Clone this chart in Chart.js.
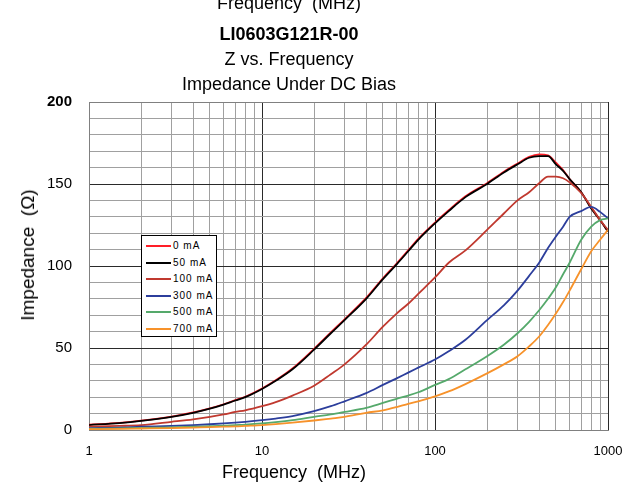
<!DOCTYPE html>
<html>
<head>
<meta charset="utf-8">
<script src="https://cdn.jsdelivr.net/npm/chart.js@4.4.1/dist/chart.umd.min.js"></script>
<style>
  body { margin: 0; background: #fff; }
  #wrap { position: relative; width: 629px; height: 487px; overflow: hidden; font-family: 'Liberation Sans', Arial, sans-serif; color: #000; }
  #chart { position: absolute; left: 0; top: 0; }
  .t { position: absolute; left: 0; width: 578px; text-align: center; font-size: 18px; line-height: 20px; white-space: pre; }
  #xTitle { position: absolute; left: 0; width: 588px; top: 462px; text-align: center; font-size: 18px; line-height: 20px; white-space: pre; }
  #yTitle { position: absolute; left: 28px; top: 255px; font-size: 19px; line-height: 20px; white-space: pre; transform: translate(-50%, -50%) rotate(-90deg); }
  #legend { position: absolute; left: 141px; top: 235px; width: 74px; height: 100px; border: 1px solid #000; background: #fff; }
  .row { position: absolute; left: 0; width: 74px; height: 14px; font-size: 10px; letter-spacing: 1px; line-height: 14px; white-space: nowrap; }
  .row span.ln { position: absolute; left: 4px; top: 6px; width: 25px; height: 2px; }
  .row span.tx { position: absolute; left: 31px; top: 0; }
</style>
</head>
<body>
<div id="wrap">
  <canvas id="chart" width="629" height="487"></canvas>
  <div class="t" style="top:-7px">Frequency  (MHz)</div>
  <div class="t" style="top:24px;font-weight:bold">LI0603G121R-00</div>
  <div class="t" style="top:49px">Z vs. Frequency</div>
  <div class="t" style="top:74px">Impedance Under DC Bias</div>
  <div id="xTitle">Frequency  (MHz)</div>
  <div id="yTitle">Impedance  (Ω)</div>
  <div id="legend"></div>
</div>
<script>
// frequency points (MHz)
const freqMHz = [1, 1.5, 2, 3, 4, 5, 6, 7, 8, 10, 12, 15, 20, 25, 30, 40, 50, 60, 70, 80,
  100, 120, 150, 200, 250, 300, 350, 400, 450, 500, 550, 600, 700, 800, 900, 1000];

// impedance (ohm) per DC bias
const z0mA = [3.2, 4.4, 5.7, 8.2, 10.7, 13.2, 15.7, 18.2, 20.3, 25.3, 30.3, 37.5, 49.5, 59.5, 67.5, 80.5, 92.5, 101.5, 109.5, 116.5,
  126.5, 134, 142.5, 150.5, 157.5, 162.5, 166.5, 168, 167.5, 163, 158.5, 153, 145, 135.5, 128, 121];
const z50mA = [3, 4.2, 5.5, 8, 10.5, 13, 15.5, 18, 20, 25, 30, 37, 49, 59, 67, 80, 92, 101, 109, 116,
  126, 133.5, 142, 150, 157, 162, 166, 167, 167, 162, 158, 153, 145, 135, 128, 121];
const z100mA = [2, 2.5, 3, 5, 6.5, 8, 9.5, 11, 12, 14.5, 17, 21, 27, 34, 40, 52, 63, 71, 77, 83,
  93, 102, 109.5, 122, 132, 140, 145, 150.5, 154.5, 154.5, 153.5, 151, 144.5, 136, 128, 122];
const z300mA = [1.2, 1.5, 2, 2.5, 3, 3.5, 4, 4.5, 5, 6, 7, 8.5, 11.5, 14.5, 17.5, 22.5, 27.5, 31.5, 35, 38,
  43, 48, 55, 67, 76, 85, 94, 102, 111, 118, 124, 130, 133.5, 136, 133, 129];
const z500mA = [0.8, 1, 1.3, 1.6, 2, 2.3, 2.6, 3, 3.3, 4, 4.8, 6, 8, 9.5, 11, 13.5, 16.5, 19, 21, 23,
  27.5, 31, 37, 45, 52, 59, 66, 73, 80, 87, 95, 102, 116, 124, 128, 129];
const z700mA = [0.5, 0.7, 0.9, 1.2, 1.5, 1.7, 2, 2.2, 2.5, 3, 3.6, 4.5, 5.8, 7, 8, 10.5, 12, 14, 16, 17.5,
  20.5, 23.5, 28, 34.5, 40, 45, 51, 57, 64, 71, 78, 85, 98, 109, 116, 122];

const seriesNames = ['0 mA', '50 mA', '100 mA', '300 mA', '500 mA', '700 mA'];
const seriesValues = [z0mA, z50mA, z100mA, z300mA, z500mA, z700mA];
const seriesColors = ['#ff1e28', '#000000', '#c0392f', '#2c3e9c', '#55a96b', '#f7922a'];

// grid lines / labels
const xTickValues = [1, 2, 3, 4, 5, 6, 7, 8, 9, 10, 20, 30, 40, 50, 60, 70, 80, 90,
  100, 200, 300, 400, 500, 600, 700, 800, 900, 1000];
const xTickLabels = [1, 10, 100, 1000];
const yTickLabels = [0, 50, 100, 150, 200];

const datasets = seriesNames.map((name, i) => ({
    label: name,
    data: freqMHz.map((f, j) => ({ x: f, y: seriesValues[i][j] })),
    borderColor: seriesColors[i],
    borderWidth: 1.8,
    pointRadius: 0,
    cubicInterpolationMode: 'monotone',
    order: seriesNames.length - i
}));

const ctx = document.getElementById('chart').getContext('2d');
const chart = new Chart(ctx, {
    type: 'line',
    data: { datasets: datasets },
    options: {
        responsive: false,
        animation: false,
        layout: { padding: { left: 0, right: 21, top: 102, bottom: 0 } },
        plugins: { legend: { display: false }, title: { display: false }, tooltip: { enabled: false } },
        scales: {
            x: {
                type: 'logarithmic',
                min: 1,
                max: 1000,
                afterBuildTicks: (scale) => {
                    scale.ticks = xTickValues.map(v => ({ value: v }));
                },
                afterFit: (scale) => {
                    scale.height = 57;
                    scale.paddingLeft = 0;
                    scale.paddingRight = 0;
                },
                ticks: {
                    autoSkip: false,
                    maxRotation: 0,
                    padding: 14,
                    color: '#000',
                    font: { family: "'Liberation Sans', Arial, sans-serif", size: 13 },
                    callback: (v) => xTickLabels.includes(v) ? String(v) : ''
                },
                grid: {
                    drawTicks: false,
                    color: (c) => xTickLabels.includes(c.tick && c.tick.value) ? '#2a2a2a' : '#a0a0a0',
                    lineWidth: 1
                },
                border: { color: '#808080', width: 1 }
            },
            y: {
                min: 0,
                max: 200,
                afterFit: (scale) => { scale.width = 89; },
                ticks: {
                    stepSize: 10,
                    autoSkip: false,
                    padding: 17,
                    color: '#000',
                    font: (c) => ({
                        family: "'Liberation Sans', Arial, sans-serif",
                        size: 15,
                        weight: c.tick && c.tick.value === 200 ? 'bold' : 'normal'
                    }),
                    callback: (v) => yTickLabels.includes(v) ? String(v) : ''
                },
                grid: {
                    drawTicks: false,
                    color: (c) => {
                        const v = c.tick && c.tick.value;
                        if (v === 0 || v === 200) return '#808080';
                        return yTickLabels.includes(v) ? '#2a2a2a' : '#a0a0a0';
                    },
                    lineWidth: 1
                },
                border: { color: '#808080', width: 1 }
            }
        }
    }
});

// legend box inside the plot
const legend = document.getElementById('legend');
seriesNames.forEach((name, i) => {
    const row = document.createElement('div');
    row.className = 'row';
    row.style.top = (3 + i * 16.6) + 'px';
    row.innerHTML = '<span class="ln" style="background:' + seriesColors[i] + '"></span><span class="tx">' + name + '</span>';
    legend.appendChild(row);
});
</script>
</body>
</html>
